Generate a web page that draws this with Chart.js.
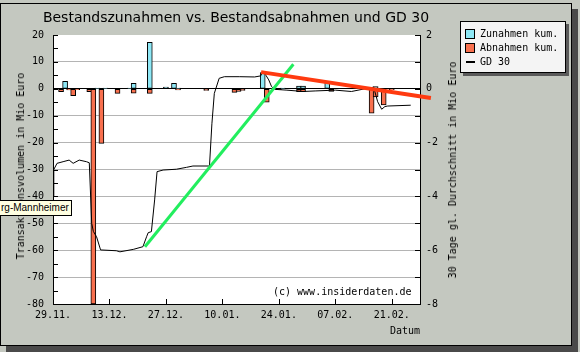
<!DOCTYPE html>
<html><head><meta charset="utf-8">
<script src="https://cdn.jsdelivr.net/npm/chart.js@4"></script>
<style>
html,body{margin:0;padding:0;background:#C4C8C0;}
#wrap{position:relative;width:580px;height:352px;overflow:hidden;background:#C4C8C0;}
#frame{position:absolute;left:0;top:3px;width:570px;height:341px;background:#C4C8C0;border:1px solid #000;box-shadow:6px 6px 0 #4a4a4a;}
canvas{position:absolute;left:0;top:0;}
.t{position:absolute;font-family:"DejaVu Sans Mono",monospace;font-size:10px;color:#000;white-space:nowrap;line-height:12px;}
#title{position:absolute;left:36px;width:400px;top:8px;text-align:center;font-family:"DejaVu Sans",sans-serif;font-size:14px;line-height:18px;color:#000;}
#legend{position:absolute;left:460px;top:21px;width:104px;height:50px;background:#F4F4F4;border:1px solid #000;box-shadow:3px 3px 0 #5a5a5a;}
.li{position:absolute;left:0;height:12px;font-family:"DejaVu Sans Mono",monospace;font-size:10px;line-height:12px;white-space:nowrap;}
.sw{position:absolute;left:4px;top:1px;width:8px;height:8px;border:1px solid #000;}
.ln{position:absolute;left:5px;top:5px;width:9px;height:2px;background:#000;}
.lt{position:absolute;left:19px;top:0;}
#tip{position:absolute;left:-1px;top:200px;height:14px;padding:0 2px 0 2px;background:#FFFFE1;border:1px solid #000;border-left:none;font-family:"Liberation Sans",Arial,sans-serif;font-size:10px;line-height:14px;color:#000;white-space:nowrap;}
</style></head>
<body>
<div id="wrap">
<div id="frame"></div>
<canvas id="c" width="580" height="352"></canvas>
<div id="title">Bestandszunahmen vs. Bestandsabnahmen und GD 30</div>
<div class="t" id="ytl" style="left:21px;top:166px;transform:translate(-50%,-50%) rotate(-90deg);">Transaktionsvolumen in Mio Euro</div>
<div class="t" id="ytr" style="left:453px;top:170px;transform:translate(-50%,-50%) rotate(-90deg);">30 Tage gl. Durchschnitt in Mio Euro</div>
<div class="t" style="left:390px;top:325px;">Datum</div>
<div class="t" style="left:273px;top:286px;">(c) www.insiderdaten.de</div>
<div id="legend"></div>
<div id="tip">rg-Mannheimer</div>
</div>
<script>
// ---- data ----
const dateLabels = ['29.11.','13.12.','27.12.','10.01.','24.01.','07.02.','21.02.'];
const tickStepDays = 14;
const seriesNames = ['Zunahmen kum.','Abnahmen kum.','GD 30'];
const seriesColors = ['#8EE8F6','#F8704E','#000000'];

const zunDays = [3, 11, 13, 19, 20, 24, 28, 30, 31, 52, 57, 61, 62, 68, 80];
const zunVals = [2.8, 0.3, 0.3, 0.3, 2.0, 17.3, 0.6, 2.0, 0.3, 6.0, 0.3, 1.0, 1.0, 2.4, 0.8];

const abnDays = [2, 4, 5, 6, 9, 10, 12, 16, 20, 24, 31, 38, 45, 46, 47, 53, 56, 61, 62, 69, 79, 80, 82, 84];
const abnVals = [-1.1, -0.4, -2.6, -0.3, -1.1, -80, -20.3, -1.7, -1.6, -1.7, -0.4, -0.6, -1.3, -1.0, -0.6, -5.0, -0.3, -1.1, -1.1, -1.0, -9.1, -3.0, -6.0, -0.3];

const gdDays = [0, 0.2, 1, 2.5, 4, 5, 6.5, 8.3, 9, 9.6, 10, 10.8, 11.8, 15.7, 16.6, 19.9, 22.3, 23.2, 23.6, 24.4, 25.2, 25.8, 27.3, 30.6, 33.1, 34.7, 38.8, 39.4, 40, 41.2, 42.5, 46.3, 50, 51.5, 52, 52.8, 53.5, 54.2, 55, 58, 62, 65, 70, 74, 78, 79.5, 80.5, 81.5, 82.3, 83, 88.7];
const gdVals = [-4.0, -3.0, -2.77, -2.71, -2.65, -2.77, -2.65, -2.71, -2.75, -5.0, -5.3, -5.5, -5.99, -6.02, -6.06, -5.97, -5.87, -5.5, -5.35, -5.31, -4.13, -3.08, -3.02, -2.99, -2.92, -2.87, -2.87, -1.3, -0.17, 0.39, 0.45, 0.45, 0.44, 0.48, 0.64, 0.5, 0.33, 0.08, -0.02, -0.05, -0.1, -0.08, -0.05, -0.1, 0.02, 0.06, -0.48, -0.76, -0.66, -0.64, -0.61];

const trendUpDays = [22.8, 59.6];
const trendUpVals = [-5.87, 0.91];
const trendDownDays = [51.6, 93.7];
const trendDownVals = [0.62, -0.34];

// ---- build ----
const pts = (xs, ys) => xs.map((x, i) => ({x: x, y: ys[i]}));
const monoFont = {family: 'DejaVu Sans Mono', size: 10};

const innerTicks = {
  id: 'innerTicks',
  afterDraw(chart) {
    const c = chart.ctx, a = chart.chartArea;
    const y = chart.scales.y, y1 = chart.scales.y1, x = chart.scales.x;
    c.save();
    c.strokeStyle = '#000'; c.lineWidth = 1;
    c.beginPath();
    for (let v = y.min; v <= y.max; v += 5) {
      const p = Math.round(y.getPixelForValue(v)) + 0.5;
      c.moveTo(a.left, p); c.lineTo(a.left + 5, p);
    }
    for (let v = y1.min; v <= y1.max; v += 1) {
      const p = Math.round(y1.getPixelForValue(v)) + 0.5;
      c.moveTo(a.right, p); c.lineTo(a.right - 5, p);
    }
    x.ticks.forEach(t => {
      if (t.value === x.min) return;
      const p = Math.round(x.getPixelForValue(t.value)) + 0.5;
      c.moveTo(p, a.bottom); c.lineTo(p, a.bottom - 5);
    });
    c.stroke();
    c.restore();
  }
};

const plotBg = {
  id: 'plotBg',
  beforeDraw(chart) {
    const c = chart.ctx, a = chart.chartArea;
    c.save(); c.fillStyle = '#FFFFFF';
    c.fillRect(a.left, a.top, a.right - a.left, a.bottom - a.top);
    c.restore();
  }
};

new Chart(document.getElementById('c'), {
  type: 'bar',
  data: {
    datasets: [
      {type: 'line', label: 'Trend fallend', data: pts(trendDownDays, trendDownVals), yAxisID: 'y1',
       borderColor: '#FF3A10', borderWidth: 4, pointRadius: 0, clip: false, order: 0},
      {type: 'line', label: 'Trend steigend', data: pts(trendUpDays, trendUpVals), yAxisID: 'y1',
       borderColor: '#22EE5E', borderWidth: 3, pointRadius: 0, order: 0},
      {type: 'line', label: seriesNames[2], data: pts(gdDays, gdVals), yAxisID: 'y1',
       borderColor: seriesColors[2], borderWidth: 1, pointRadius: 0, tension: 0, order: 1},
      {label: seriesNames[0], data: pts(zunDays, zunVals), yAxisID: 'y', stack: 's',
       backgroundColor: seriesColors[0], borderColor: '#000', borderWidth: 1, borderSkipped: false,
       barThickness: 5, order: 2},
      {label: seriesNames[1], data: pts(abnDays, abnVals), yAxisID: 'y', stack: 's',
       backgroundColor: seriesColors[1], borderColor: '#000', borderWidth: 1, borderSkipped: false,
       barThickness: 5, order: 2}
    ]
  },
  options: {
    responsive: false, animation: false, devicePixelRatio: 1,
    layout: {padding: {left: 0, top: 35, right: 120, bottom: 28}},
    plugins: {legend: {display: false}, tooltip: {enabled: false}, title: {display: false}},
    scales: {
      x: {
        type: 'linear', min: 0, max: 91, offset: false, position: 'bottom',
        afterBuildTicks: s => { s.ticks = dateLabels.map((_, i) => ({value: i * tickStepDays})); },
        afterFit: s => { s.height = 20; },
        ticks: {callback: v => dateLabels[Math.round(v / tickStepDays)] || '', font: monoFont, color: '#000',
                padding: 5, maxRotation: 0, autoSkip: false},
        grid: {display: false, drawTicks: false, offset: false},
        border: {display: true, color: '#000', width: 1}
      },
      y: {
        position: 'left', min: -80, max: 20, stacked: true,
        afterFit: s => { s.width = 53; },
        ticks: {stepSize: 10, font: monoFont, color: '#000', padding: 9},
        grid: {drawTicks: false,
               color: ctx => { const v = ctx.tick ? ctx.tick.value : null;
                               if (v === 0) return '#000';
                               if (v === 20 || v === -80) return 'rgba(0,0,0,0)';
                               return '#B4B4B4'; }},
        border: {display: true, color: '#000', width: 1}
      },
      y1: {
        position: 'right', min: -8, max: 2,
        afterFit: s => { s.width = 40; },
        ticks: {stepSize: 2, font: monoFont, color: '#000', padding: 6},
        grid: {display: false, drawTicks: false},
        border: {display: true, color: '#000', width: 1}
      }
    }
  },
  plugins: [plotBg, innerTicks]
});

// legend from series arrays
const lg = document.getElementById('legend');
seriesNames.forEach((n, i) => {
  const row = document.createElement('div');
  row.className = 'li';
  row.style.top = (6 + i * 14) + 'px';
  row.style.width = '100%';
  const mk = document.createElement('div');
  if (i < 2) { mk.className = 'sw'; mk.style.background = seriesColors[i]; }
  else { mk.className = 'ln'; }
  const tx = document.createElement('div');
  tx.className = 'lt'; tx.textContent = n;
  row.appendChild(mk); row.appendChild(tx);
  lg.appendChild(row);
});
</script>
</body></html>
